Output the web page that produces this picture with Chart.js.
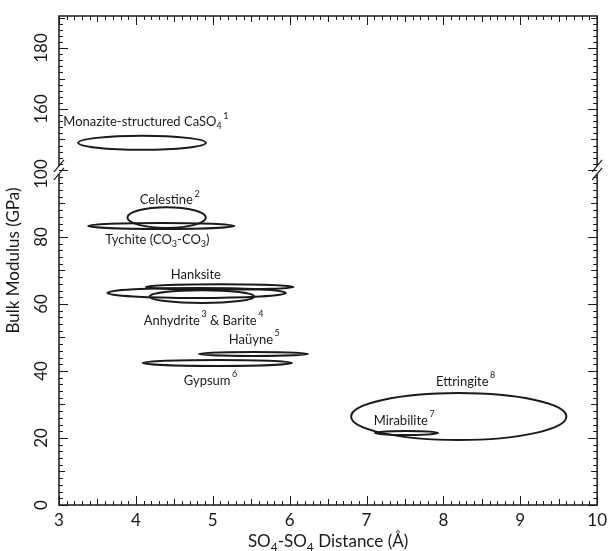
<!DOCTYPE html>
<html>
<head>
<meta charset="utf-8">
<script src="https://cdn.jsdelivr.net/npm/chart.js@4"></script>
<style>
  body { margin: 0; background: #fff; }
</style>
</head>
<body>
<canvas id="bulkChart" width="612" height="551"></canvas>
<script>
  // phases, SO4-SO4 distance range and bulk modulus range (drawn as ellipses)
  const phases = ['Monazite CaSO4', 'Celestine', 'Tychite', 'Hanksite', 'Anhydrite', 'Barite', 'Hauyne', 'Gypsum', 'Ettringite', 'Mirabilite'];
  const distCenter = [4.08, 4.40, 4.33, 5.09, 4.79, 4.86, 5.53, 5.06, 8.20, 7.52];
  const distHalf = [0.83, 0.51, 0.95, 0.96, 1.16, 0.68, 0.71, 0.97, 1.40, 0.41];
  const modCenter = [148.9, 85.8, 83.3, 65.1, 63.3, 62.2, 45.1, 42.4, 26.4, 21.5];
  const modHalf = [2.3, 3.1, 0.9, 0.8, 1.5, 1.9, 0.6, 0.9, 7.0, 0.6];

  // annotation labels (_ = subscript, ^ = superscript)
  const labelText = ['Monazite-structured CaSO_4^1', 'Celestine^2', 'Tychite (CO_3-CO_3)', 'Hanksite', 'Anhydrite^3 & Barite^4', 'Haüyne^5', 'Gypsum^6', 'Ettringite^8', 'Mirabilite^7'];
  const labelX = [4.13, 4.44, 4.28, 4.78, 4.88, 5.54, 4.97, 8.29, 7.49];
  const labelY = [155.7, 91.0, 79.1, 68.7, 54.9, 49.3, 37.0, 36.7, 25.1];

  const xTicks = [3, 4, 5, 6, 7, 8, 9, 10];
  const yTicks = [0, 20, 40, 60, 80, 100, 160, 180];

  // axis break: 100 -> 140 collapsed, upper part slightly compressed
  const breakLow = 100, breakHigh = 140, upperScale = 0.91, yTop = 190.5;
  const toAxis = v => v <= breakLow ? v : breakLow + (v - breakHigh) * upperScale;

  const FONT = 'Lato, "Liberation Sans", sans-serif';
  const INK = '#1a1a1a';

  function drawRich(ctx, str, cx, cy, size) {
    const parts = [];
    for (let i = 0; i < str.length; i++) {
      const c = str[i];
      if ((c === '_' || c === '^') && i + 1 < str.length) {
        parts.push({ t: str[i + 1], mode: c });
        i++;
      } else {
        if (parts.length && !parts[parts.length - 1].mode) parts[parts.length - 1].t += c;
        else parts.push({ t: c, mode: null });
      }
    }
    const small = Math.round(size * 0.68);
    let total = 0;
    parts.forEach(p => {
      ctx.font = (p.mode ? small : size) + 'px ' + FONT;
      p.w = ctx.measureText(p.t).width + (p.mode === '^' ? 1.5 : 0);
      total += p.w;
    });
    let x = cx - total / 2;
    ctx.textAlign = 'left';
    ctx.textBaseline = 'middle';
    parts.forEach(p => {
      let dy = 0;
      if (p.mode === '_') dy = size * 0.3;
      if (p.mode === '^') dy = -size * 0.5;
      ctx.font = (p.mode ? small : size) + 'px ' + FONT;
      ctx.fillText(p.t, x + (p.mode === '^' ? 1.5 : 0), cy + dy);
      x += p.w;
    });
  }

  const framePlugin = {
    id: 'frame',
    afterDatasetsDraw(chart) {
      const { ctx, chartArea: a, scales: { x, y } } = chart;
      ctx.save();
      ctx.strokeStyle = INK;
      ctx.fillStyle = INK;

      // ellipses
      ctx.lineWidth = 2;
      phases.forEach((p, i) => {
        const cx = x.getPixelForValue(distCenter[i]);
        const cy = y.getPixelForValue(toAxis(modCenter[i]));
        const rx = Math.abs(x.getPixelForValue(distCenter[i] + distHalf[i]) - cx);
        const ry = Math.abs(y.getPixelForValue(toAxis(modCenter[i] + modHalf[i])) - cy);
        ctx.beginPath();
        ctx.ellipse(cx, cy, rx, ry, 0, 0, Math.PI * 2);
        ctx.stroke();
      });

      // labels
      labelText.forEach((t, i) => {
        drawRich(ctx, t, x.getPixelForValue(labelX[i]), y.getPixelForValue(toAxis(labelY[i])), 13);
      });

      // frame with breaks on left and right
      const yb = y.getPixelForValue(breakLow);
      ctx.lineWidth = 1.5;
      ctx.beginPath();
      ctx.moveTo(a.left, yb - 4); ctx.lineTo(a.left, a.top); ctx.lineTo(a.right, a.top); ctx.lineTo(a.right, yb - 4);
      ctx.moveTo(a.right, yb + 4); ctx.lineTo(a.right, a.bottom); ctx.lineTo(a.left, a.bottom); ctx.lineTo(a.left, yb + 4);
      ctx.stroke();
      ctx.lineWidth = 1.2;
      [a.left, a.right].forEach(ex => {
        ctx.beginPath();
        ctx.moveTo(ex - 5, yb + 2); ctx.lineTo(ex + 5, yb - 10);
        ctx.moveTo(ex - 5, yb + 10); ctx.lineTo(ex + 5, yb - 2);
        ctx.stroke();
      });

      // x ticks (bottom and top, pointing inward)
      ctx.lineWidth = 1;
      ctx.beginPath();
      for (let k = 30; k <= 100; k++) {
        const v = k / 10;
        const len = k % 10 === 0 ? 9 : (k % 5 === 0 ? 6 : 4);
        const px = Math.round(x.getPixelForValue(v)) + 0.5;
        ctx.moveTo(px, a.bottom); ctx.lineTo(px, a.bottom - len);
        ctx.moveTo(px, a.top); ctx.lineTo(px, a.top + len);
      }
      // y ticks (left and right)
      const yVals = [];
      for (let v = 0; v <= breakLow; v += 2) yVals.push(v);
      for (let v = breakHigh + 2; v <= yTop; v += 2) yVals.push(v);
      yVals.forEach(v => {
        const len = v % 20 === 0 ? 9 : (v % 10 === 0 ? 6 : 4);
        const py = Math.round(y.getPixelForValue(toAxis(v))) + 0.5;
        ctx.moveTo(a.left, py); ctx.lineTo(a.left + len, py);
        ctx.moveTo(a.right, py); ctx.lineTo(a.right - len, py);
      });
      ctx.stroke();

      // y tick labels, rotated
      ctx.font = '17px ' + FONT;
      ctx.textAlign = 'center';
      ctx.textBaseline = 'middle';
      yTicks.forEach(v => {
        const py = y.getPixelForValue(toAxis(v)) + (v === breakLow ? 4 : 0);
        ctx.save();
        ctx.translate(42, py);
        ctx.rotate(-Math.PI / 2);
        ctx.fillText(String(v), 0, 0);
        ctx.restore();
      });

      // axis titles
      ctx.save();
      ctx.translate(14, (a.top + a.bottom) / 2);
      ctx.rotate(-Math.PI / 2);
      ctx.font = '17px ' + FONT;
      ctx.textAlign = 'center';
      ctx.fillText('Bulk Modulus (GPa)', 0, 0);
      ctx.restore();
      drawRich(ctx, 'SO_4-SO_4 Distance (Å)', (a.left + a.right) / 2, 542, 17);

      ctx.restore();
    }
  };

  const ctx = document.getElementById('bulkChart').getContext('2d');
  new Chart(ctx, {
    type: 'scatter',
    data: {
      datasets: [{
        data: phases.map((p, i) => ({ x: distCenter[i], y: toAxis(modCenter[i]) })),
        pointRadius: 0
      }]
    },
    options: {
      responsive: false,
      animation: false,
      layout: { padding: { top: 16, right: 11, left: 0, bottom: 0 } },
      plugins: { legend: { display: false }, tooltip: { enabled: false } },
      scales: {
        x: {
          type: 'linear', min: 3, max: 10,
          grid: { display: false, drawTicks: false }, border: { display: false },
          afterBuildTicks: s => { s.ticks = xTicks.map(v => ({ value: v })); },
          ticks: { padding: 5, color: INK, font: { family: FONT, size: 17 } },
          afterFit: s => { s.height = 46; }
        },
        y: {
          type: 'linear', min: 0, max: toAxis(yTop),
          grid: { display: false }, border: { display: false },
          ticks: { display: false },
          afterFit: s => { s.width = 59; }
        }
      }
    },
    plugins: [framePlugin]
  });
</script>
</body>
</html>
